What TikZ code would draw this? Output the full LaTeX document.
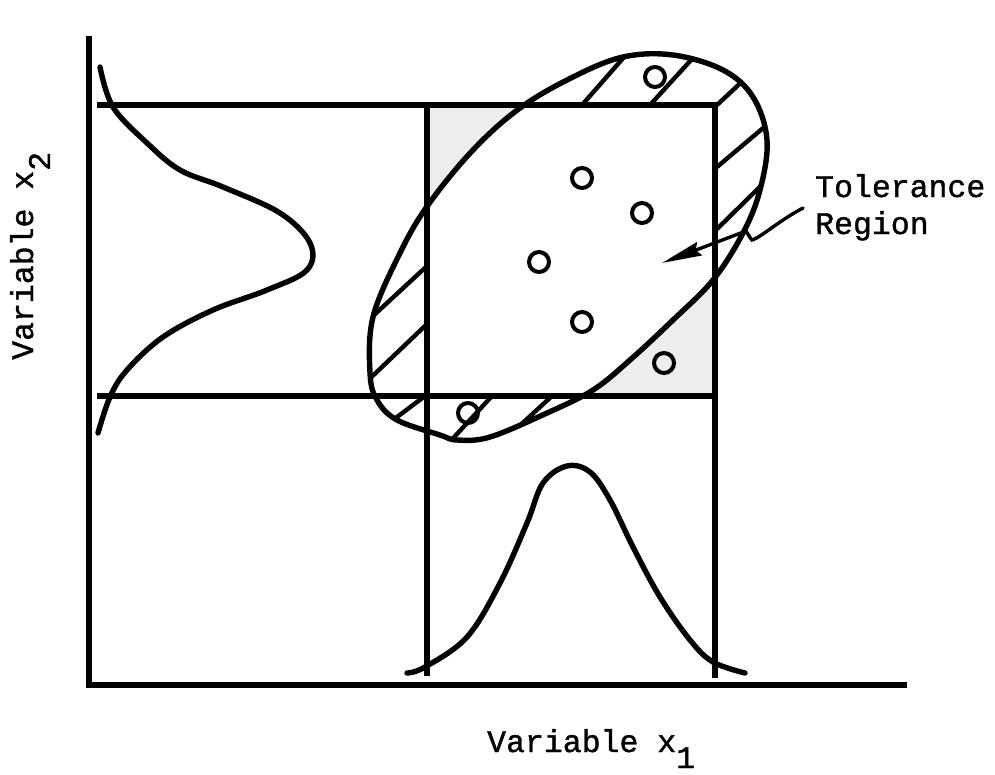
\documentclass[tikz,border=0pt]{standalone}
\usepackage{fontspec}
\setmainfont[FakeBold=1.2]{Liberation Mono}
\usetikzlibrary{arrows.meta}
\begin{document}
\begin{tikzpicture}[x=1pt,y=-1pt,
  axis/.style={line width=6pt},
  gridline/.style={line width=5.4pt},
  curve/.style={line width=5.4pt, line cap=round},
  hatch/.style={line width=4.4pt},
  pt/.style={circle, draw, line width=4pt, minimum size=20pt, inner sep=0pt},
  lbl/.style={font=\fontsize{31.5}{38}\selectfont, inner sep=0pt},
  shade/.style={fill=black!7}]
\useasboundingbox (0,0) rectangle (995,774);
% stippled box region outside ellipse
\fill[shade] (427,105) rectangle (715,396);
\fill[white] plot[smooth cycle, tension=0.6] coordinates {(370,373) (373,317) (400,253) (428,205) (473,150) (520,108) (573,77) (623,57) (673,55) (723,70) (753,97) (767,140) (760,190) (743,233) (713,280) (673,320) (630,360) (593,390) (547,413) (490,437) (457,440) (440,435) (397,420) (377,400)};
% hatching inside ellipse, outside box
\begin{scope}
\clip plot[smooth cycle, tension=0.6] coordinates {(370,373) (373,317) (400,253) (428,205) (473,150) (520,108) (573,77) (623,57) (673,55) (723,70) (753,97) (767,140) (760,190) (743,233) (713,280) (673,320) (630,360) (593,390) (547,413) (490,437) (457,440) (440,435) (397,420) (377,400)};
\draw[hatch] (582,105) -- (632,48);
\draw[hatch] (650,105) -- (702,48);
\draw[hatch] (717,105) -- (748,76);
\draw[hatch] (717,167) -- (775,118);
\draw[hatch] (717,229) -- (775,172);
\draw[hatch] (427,266) -- (360,328);
\draw[hatch] (427,324) -- (360,388);
\draw[hatch] (425,396) -- (385,426);
\draw[hatch] (492,396) -- (445,447);
\draw[hatch] (552,396) -- (515,430);
\end{scope}
% axes
\draw[axis] (89,36) -- (89,688);
\draw[axis] (86,685) -- (907,685);
% tolerance box lines
\draw[gridline] (97,105) -- (717,105);
\draw[gridline] (97,396) -- (717,396);
\draw[gridline] (427,102) -- (427,676);
\draw[gridline] (715,102) -- (715,678);
% marginal curves
\draw[curve] plot[smooth, tension=0.6] coordinates {(100,67) (113,107) (147,143) (180,170) (223,187) (280,213) (310,243) (307,270) (267,290) (213,310) (163,337) (127,370) (110,397) (98,433)};
\draw[curve] plot[smooth, tension=0.6] coordinates {(407,673) (425,667) (467,637) (500,583) (527,523) (543,483) (567,466) (590,472) (610,500) (633,547) (660,597) (690,640) (713,662) (745,673)};
% ellipse outline
\draw[curve] plot[smooth cycle, tension=0.6] coordinates {(370,373) (373,317) (400,253) (428,205) (473,150) (520,108) (573,77) (623,57) (673,55) (723,70) (753,97) (767,140) (760,190) (743,233) (713,280) (673,320) (630,360) (593,390) (547,413) (490,437) (457,440) (440,435) (397,420) (377,400)};
% sample points
\node[pt] (p1) at (655,77) {};
\node[pt] (p2) at (582,178) {};
\node[pt] (p3) at (642,213) {};
\node[pt] (p4) at (539,262) {};
\node[pt] (p5) at (582,322) {};
\node[pt] (p6) at (664,363) {};
\node[pt] (p7) at (468,413) {};
% labels
\node[lbl, anchor=base west] (tol) at (815,197) {Tolerance};
\node[lbl, anchor=base west] (reg) at (815,234) {Region};
\node[lbl, anchor=base west] (xone) at (487,752) {Variable x\raisebox{-16pt}{1}};
\node[lbl, anchor=base west, rotate=90] (xtwo) at (33,360) {Variable x\raisebox{-17pt}{2}};
% pointer
\coordinate (astart) at (803,208);
\coordinate (ahook) at (752,240);
\coordinate (abend) at (746,231);
\coordinate (atip) at (662,263);
\draw[line width=3.4pt, line cap=round] (astart) .. controls (780,220) and (760,238) .. (ahook) .. controls (750,238) and (748,234) .. (abend);
\draw[line width=3.4pt, -{Stealth[length=40pt, width=14pt, inset=4pt]}] (abend) -- (atip);
\end{tikzpicture}
\end{document}
